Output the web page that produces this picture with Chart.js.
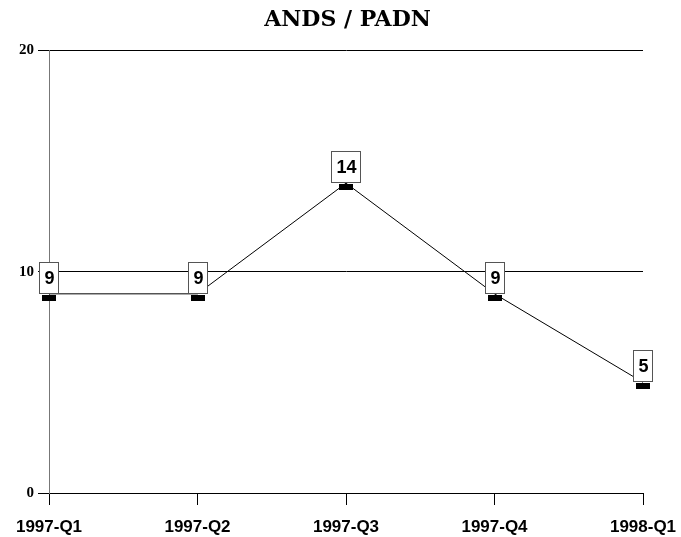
<!DOCTYPE html>
<html>
<head>
<meta charset="utf-8">
<script src="https://cdn.jsdelivr.net/npm/chart.js@4"></script>
<style>
  html, body { margin: 0; padding: 0; background: #fff; }
  #wrap { width: 681px; height: 537px; }
</style>
</head>
<body>
<div id="wrap"><canvas id="myChart" width="681" height="537"></canvas></div>
<script>
const quarters = ['1997-Q1', '1997-Q2', '1997-Q3', '1997-Q4', '1998-Q1']
const values = [9, 9, 14, 9, 5]
const yTicks = [0, 10, 20]

// draws the black bar marker and the boxed value label at each point
const boxLabels = {
  id: 'boxLabels',
  afterDatasetsDraw(chart) {
    const ctx = chart.ctx
    const meta = chart.getDatasetMeta(0)
    ctx.save()
    ctx.font = 'bold 18px "Liberation Sans", Arial, sans-serif'
    ctx.textAlign = 'center'
    ctx.textBaseline = 'middle'
    meta.data.forEach((pt, i) => {
      const x = Math.round(pt.x)
      const y = Math.round(pt.y)
      ctx.fillStyle = '#000'
      ctx.fillRect(x - 7, y + 1, 14, 6)
      const txt = String(values[i])
      const w = Math.round(ctx.measureText(txt).width) + 9
      const h = 31
      const bx = x - Math.round(w / 2) + 0.5
      const by = y - h - 0.5
      ctx.fillStyle = '#fff'
      ctx.fillRect(bx, by, w, h)
      ctx.strokeStyle = '#555'
      ctx.lineWidth = 1
      ctx.strokeRect(bx, by, w, h)
      ctx.fillStyle = '#000'
      ctx.fillText(txt, x + 0.5, by + h / 2 + 1)
    })
    ctx.restore()
  }
}

const ctx = document.getElementById('myChart').getContext('2d')
const chart = new Chart(ctx, {
  type: 'line',
  data: {
    labels: quarters,
    datasets: [{
      label: 'ANDS / PADN',
      data: values,
      borderColor: '#000',
      borderWidth: 1,
      pointRadius: 0,
      tension: 0
    }]
  },
  plugins: [boxLabels],
  options: {
    responsive: false,
    animation: false,
    layout: { padding: { left: 14, right: 0, top: 0, bottom: 0 } },
    plugins: {
      legend: { display: false },
      tooltip: { enabled: false },
      title: {
        display: true,
        text: 'ANDS / PADN',
        color: '#000',
        font: { family: '"DejaVu Serif", serif', size: 22, weight: 'bold' },
        padding: { top: 7, bottom: 17 }
      }
    },
    scales: {
      x: {
        offset: false,
        grid: { drawOnChartArea: false, color: '#000', tickLength: 12, lineWidth: 1 },
        border: { display: false },
        ticks: {
          color: '#000',
          maxRotation: 0,
          autoSkip: false,
          padding: 12,
          font: { family: '"Liberation Sans", Arial, sans-serif', size: 17, weight: 'bold' }
        },
        afterFit(scale) {
          scale.height = 44
          scale.paddingLeft = 0
          scale.paddingRight = 38
        }
      },
      y: {
        min: 0,
        max: 20,
        afterBuildTicks(scale) { scale.ticks = yTicks.map(v => ({ value: v })) },
        grid: { color: '#000', tickLength: 11, lineWidth: 1 },
        border: { color: '#777', width: 1 },
        ticks: {
          color: '#000',
          padding: 4,
          font: { family: '"Liberation Serif", "Times New Roman", serif', size: 15, weight: 'bold' }
        },
        afterFit(scale) { scale.width = 35 }
      }
    }
  }
})
</script>
</body>
</html>
